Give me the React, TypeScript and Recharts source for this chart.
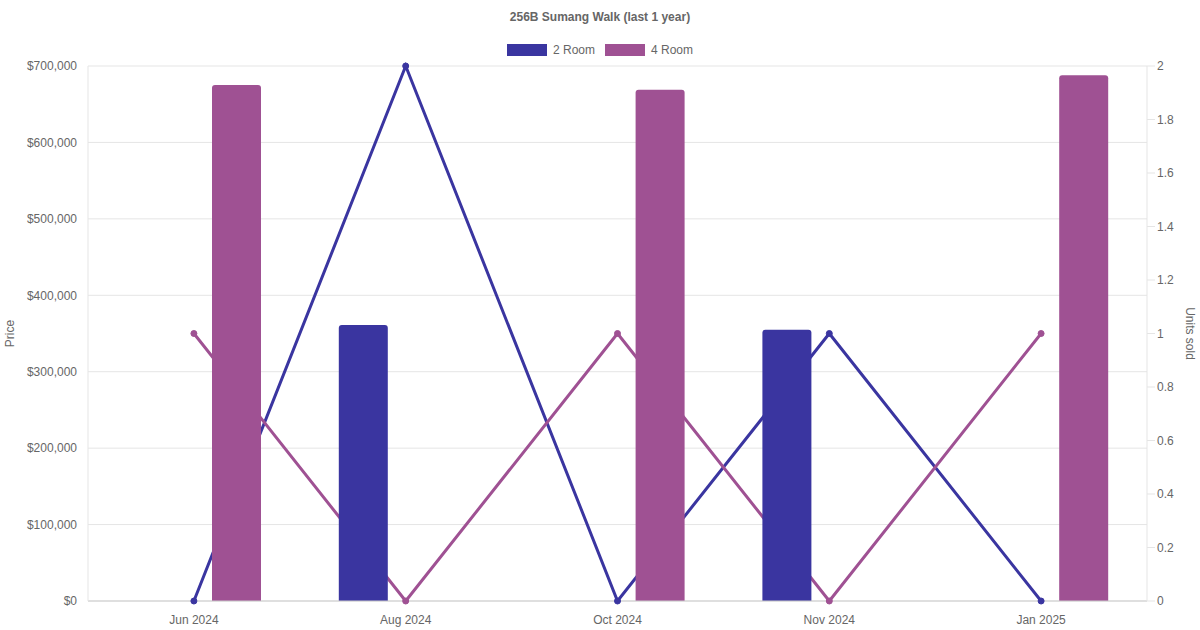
import { ComposedChart, Bar, Line, XAxis, YAxis, CartesianGrid } from 'recharts'

const months = ['Jun 2024', 'Aug 2024', 'Oct 2024', 'Nov 2024', 'Jan 2025']
const price2Room = [null, 361000, null, 355000, null]
const price4Room = [675000, null, 669000, null, 688000]
const units2Room = [0, 2, 0, 1, 0]
const units4Room = [1, 0, 1, 0, 1]
const priceTicks = [0, 100000, 200000, 300000, 400000, 500000, 600000, 700000]
const unitTicks = [0, 0.2, 0.4, 0.6, 0.8, 1, 1.2, 1.4, 1.6, 1.8, 2]

const series = [
  { name: '2 Room', color: '#3a35a0' },
  { name: '4 Room', color: '#9f5193' },
]

const data = months.map((month, i) => ({
  month,
  p2: price2Room[i],
  p4: price4Room[i],
  u2: units2Room[i],
  u4: units4Room[i],
}))

const font = '"Liberation Sans", Arial, Helvetica, sans-serif'
const textColor = '#666'
const gridColor = '#e5e5e5'
const tick = { fill: textColor, fontSize: 12, fontFamily: font }

const fmtPrice = (v: number) => '$' + v.toLocaleString('en-US')

export default function App() {
  return (
    <div style={{ position: 'absolute', left: 0, top: 0, width: 1200, height: 630, fontFamily: font, background: '#fff' }}>
      <div style={{ position: 'absolute', top: 10, left: 0, width: 1200, textAlign: 'center', fontSize: 12, lineHeight: '14px', fontWeight: 'bold', color: textColor }}>
        256B Sumang Walk (last 1 year)
      </div>
      <div style={{ position: 'absolute', top: 44, left: 0, width: 1200, display: 'flex', justifyContent: 'center', fontSize: 12, lineHeight: '12px', color: textColor }}>
        {series.map((s, i) => (
          <div key={s.name} style={{ display: 'flex', alignItems: 'center', marginLeft: i ? 10 : 0 }}>
            <span style={{ display: 'inline-block', width: 40, height: 12, background: s.color, marginRight: 6 }} />
            <span>{s.name}</span>
          </div>
        ))}
      </div>
      <ComposedChart width={1200} height={630} data={data} barGap={36} margin={{ top: 66, right: 0, bottom: 0, left: 0 }}>
        <CartesianGrid stroke={gridColor} vertical={false} yAxisId="price" />
        <XAxis
          dataKey="month" height={29} tick={tick} tickLine={false} tickMargin={8}
          axisLine={{ stroke: '#ccc' }}
        />
        <YAxis
          yAxisId="price" width={88} domain={[0, 700000]} ticks={priceTicks} tickFormatter={fmtPrice}
          tick={tick} tickLine={false} tickMargin={5} axisLine={{ stroke: gridColor }}
          label={({ viewBox }: any) => (
            <text
              x={viewBox.x + 11} y={viewBox.y + viewBox.height / 2}
              transform={`rotate(-90 ${viewBox.x + 11} ${viewBox.y + viewBox.height / 2})`}
              textAnchor="middle" dominantBaseline="middle" fill={textColor} fontSize={12} fontFamily={font}
            >
              Price
            </text>
          )}
        />
        <YAxis
          yAxisId="units" orientation="right" width={53} domain={[0, 2]} ticks={unitTicks}
          tick={tick} tickSize={8} tickMargin={2} tickLine={{ stroke: gridColor }} axisLine={{ stroke: gridColor }}
          label={({ viewBox }: any) => (
            <text
              x={viewBox.x + viewBox.width - 11} y={viewBox.y + viewBox.height / 2}
              transform={`rotate(90 ${viewBox.x + viewBox.width - 11} ${viewBox.y + viewBox.height / 2})`}
              textAnchor="middle" dominantBaseline="middle" fill={textColor} fontSize={12} fontFamily={font}
            >
              Units sold
            </text>
          )}
        />
        <Line
          yAxisId="units" dataKey="u2" name="2 Room" type="linear" stroke={series[0].color} strokeWidth={3}
          dot={{ r: 3, fill: series[0].color, stroke: series[0].color, strokeWidth: 1 }} zIndex={250}
          isAnimationActive={false}
        />
        <Line
          yAxisId="units" dataKey="u4" name="4 Room" type="linear" stroke={series[1].color} strokeWidth={3}
          dot={{ r: 3, fill: series[1].color, stroke: series[1].color, strokeWidth: 1 }} zIndex={250}
          isAnimationActive={false}
        />
        <Bar yAxisId="price" dataKey="p2" name="2 Room" fill={series[0].color} barSize={49} radius={[3, 3, 0, 0]} isAnimationActive={false} />
        <Bar yAxisId="price" dataKey="p4" name="4 Room" fill={series[1].color} barSize={49} radius={[3, 3, 0, 0]} isAnimationActive={false} />
      </ComposedChart>
    </div>
  )
}
